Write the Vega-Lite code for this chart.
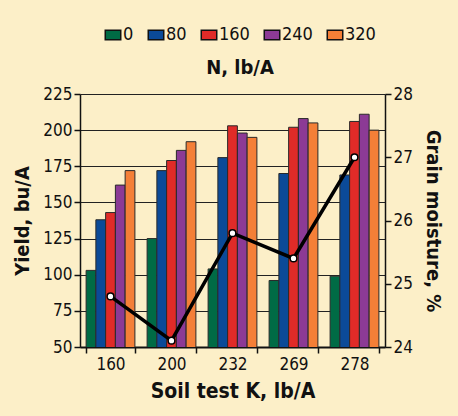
{
  "$schema": "https://vega.github.io/schema/vega-lite/v6.json",
  "width": 305,
  "height": 253,
  "autosize": "none",
  "padding": {"left": 80, "top": 94, "right": 73, "bottom": 69},
  "background": "#FCEFC8",
  "config": {
    "view": {"stroke": null},
    "font": "Liberation Sans Narrow, DejaVu Sans Condensed, sans-serif",
    "axis": {"labelColor": "#111", "titleColor": "#111", "domainColor": "#111", "tickColor": "#111", "labelFont": "Liberation Sans Narrow, DejaVu Sans Condensed", "titleFont": "Liberation Sans Narrow, DejaVu Sans Condensed"},
    "legend": {"labelFont": "Liberation Sans Narrow, DejaVu Sans Condensed", "titleFont": "Liberation Sans Narrow, DejaVu Sans Condensed"}
  },
  "datasets": {
    "yield": [
      {"K": "160", "N": "0", "yield": 103}, {"K": "160", "N": "80", "yield": 138}, {"K": "160", "N": "160", "yield": 143}, {"K": "160", "N": "240", "yield": 162}, {"K": "160", "N": "320", "yield": 172},
      {"K": "200", "N": "0", "yield": 125}, {"K": "200", "N": "80", "yield": 172}, {"K": "200", "N": "160", "yield": 179}, {"K": "200", "N": "240", "yield": 186}, {"K": "200", "N": "320", "yield": 192},
      {"K": "232", "N": "0", "yield": 104}, {"K": "232", "N": "80", "yield": 181}, {"K": "232", "N": "160", "yield": 203}, {"K": "232", "N": "240", "yield": 198}, {"K": "232", "N": "320", "yield": 195},
      {"K": "269", "N": "0", "yield": 96}, {"K": "269", "N": "80", "yield": 170}, {"K": "269", "N": "160", "yield": 202}, {"K": "269", "N": "240", "yield": 208}, {"K": "269", "N": "320", "yield": 205},
      {"K": "278", "N": "0", "yield": 99}, {"K": "278", "N": "80", "yield": 169}, {"K": "278", "N": "160", "yield": 206}, {"K": "278", "N": "240", "yield": 211}, {"K": "278", "N": "320", "yield": 200}
    ],
    "moisture": [
      {"K": "160", "moisture": 24.8},
      {"K": "200", "moisture": 24.1},
      {"K": "232", "moisture": 25.8},
      {"K": "269", "moisture": 25.4},
      {"K": "278", "moisture": 27.0}
    ]
  },
  "layer": [
    {
      "data": {"name": "yield"},
      "mark": {"type": "bar", "stroke": "#2a2a2a", "strokeWidth": 1, "clip": true},
      "encoding": {
        "x": {
          "field": "K", "type": "nominal", "sort": ["160", "200", "232", "269", "278"],
          "scale": {"paddingInner": 0.2, "paddingOuter": 0.1},
          "axis": {"title": "Soil test K, lb/A", "labelAngle": 0, "tickBand": "extent", "domainWidth": 2, "tickWidth": 1.5, "tickSize": 6, "labelFontSize": 17, "labelPadding": 3, "titleFontSize": 21, "titleFontWeight": "bold", "titlePadding": 8}
        },
        "xOffset": {"field": "N", "type": "nominal", "sort": ["0", "80", "160", "240", "320"]},
        "y": {
          "field": "yield", "type": "quantitative",
          "scale": {"domain": [50, 225], "zero": false, "nice": false},
          "axis": {"title": "Yield, bu/A", "values": [50, 75, 100, 125, 150, 175, 200, 225], "grid": true, "gridColor": "#222", "gridWidth": 1, "gridOpacity": 1, "domainWidth": 1.5, "tickSize": 6, "tickWidth": 1.5, "labelFontSize": 17, "labelPadding": 2, "titleFontSize": 20, "titleFontWeight": "bold", "titlePadding": 10}
        },
        "color": {
          "field": "N", "type": "nominal", "sort": ["0", "80", "160", "240", "320"],
          "scale": {"domain": ["0", "80", "160", "240", "320"], "range": ["#006B45", "#0B4A98", "#E02B28", "#8C3A95", "#F47F37"]},
          "legend": {"title": "N, lb/A", "orient": "none", "legendX": 24, "legendY": -68, "direction": "horizontal", "titleOrient": "bottom", "titleAnchor": "middle", "titleFontSize": 20, "titleFontWeight": "bold", "titleColor": "#111", "titlePadding": 14, "labelFontSize": 18, "labelColor": "#111", "labelOffset": 1, "columnPadding": 11, "symbolType": "M-1,-0.6H1V0.6H-1Z", "symbolSize": 240, "symbolStrokeColor": "#111", "symbolStrokeWidth": 1.5, "symbolOpacity": 1}
        }
      }
    },
    {
      "data": {"name": "moisture"},
      "mark": {"type": "line", "color": "#000", "strokeWidth": 3.5},
      "encoding": {
        "x": {"field": "K", "type": "nominal", "sort": ["160", "200", "232", "269", "278"]},
        "y": {"field": "moisture", "type": "quantitative", "scale": {"domain": [24, 28], "zero": false, "nice": false},
          "axis": {"orient": "right", "title": "Grain moisture, %", "values": [24, 25, 26, 27, 28], "grid": false, "domainWidth": 1.5, "tickSize": 6, "tickWidth": 1.5, "labelFontSize": 17, "labelPadding": 2, "titleFontSize": 20, "titleFontWeight": "bold", "titlePadding": 10}}
      }
    },
    {
      "data": {"name": "moisture"},
      "mark": {"type": "point", "filled": true, "fill": "#fff", "stroke": "#000", "strokeWidth": 1.5, "size": 45, "opacity": 1},
      "encoding": {
        "x": {"field": "K", "type": "nominal", "sort": ["160", "200", "232", "269", "278"]},
        "y": {"field": "moisture", "type": "quantitative", "scale": {"domain": [24, 28], "zero": false, "nice": false}, "axis": null}
      }
    }
  ],
  "resolve": {"scale": {"y": "independent"}}
}
